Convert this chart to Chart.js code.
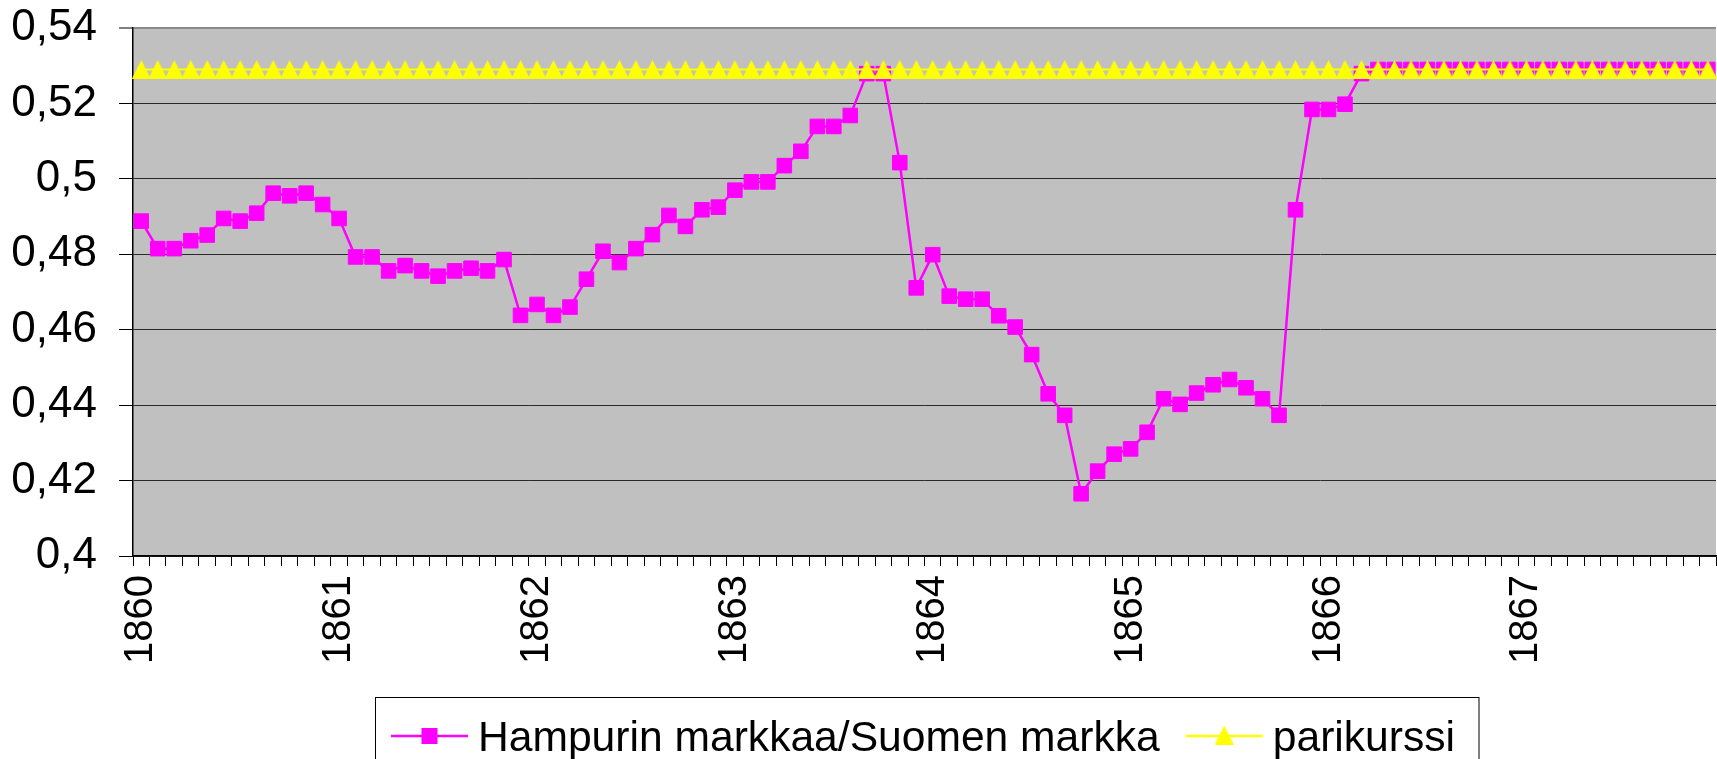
<!DOCTYPE html>
<html>
<head>
<meta charset="utf-8">
<title>Hampurin markkaa / Suomen markka 1860-1867</title>
<script src="https://cdn.jsdelivr.net/npm/chart.js@4/dist/chart.umd.min.js"></script>
<style>
  html, body { margin: 0; padding: 0; background: #ffffff; }
  #wrap { width: 1717px; height: 759px; position: relative; }
</style>
</head>
<body>
<div id="wrap"><canvas id="kurssi"></canvas></div>
<script>
// Data: monthly exchange rate, January 1860 - December 1867
const years = [1860, 1861, 1862, 1863, 1864, 1865, 1866, 1867];
const monthsPerYear = 12;

// Hamburg marks per Finnish mark, one row per year
const hampurinMarkkaa = [
  0.4888, 0.4815, 0.4815, 0.4836, 0.4851, 0.4895, 0.4888, 0.4909, 0.4962, 0.4955, 0.4962, 0.4932,
  0.4895, 0.4793, 0.4793, 0.4756, 0.4770, 0.4756, 0.4742, 0.4756, 0.4763, 0.4756, 0.4786, 0.4638,
  0.4667, 0.4638, 0.4660, 0.4734, 0.4808, 0.4778, 0.4815, 0.4852, 0.4903, 0.4874, 0.4918, 0.4925,
  0.4970, 0.4992, 0.4992, 0.5035, 0.5073, 0.5139, 0.5139, 0.5168, 0.5279, 0.5279, 0.5043, 0.4711,
  0.4799, 0.4689, 0.4681, 0.4681, 0.4637, 0.4607, 0.4534, 0.4430, 0.4373, 0.4165, 0.4225, 0.4270,
  0.4284, 0.4328, 0.4417, 0.4402, 0.4432, 0.4454, 0.4468, 0.4446, 0.4417, 0.4373, 0.4918, 0.5184,
  0.5184, 0.5198, 0.5279, 0.5290, 0.5290, 0.5290, 0.5290, 0.5290, 0.5290, 0.5290, 0.5290, 0.5290,
  0.5290, 0.5290, 0.5290, 0.5290, 0.5290, 0.5290, 0.5290, 0.5290, 0.5290, 0.5290, 0.5290, 0.5290
];

// Par rate
const parikurssi = [
  0.529, 0.529, 0.529, 0.529, 0.529, 0.529, 0.529, 0.529, 0.529, 0.529, 0.529, 0.529,
  0.529, 0.529, 0.529, 0.529, 0.529, 0.529, 0.529, 0.529, 0.529, 0.529, 0.529, 0.529,
  0.529, 0.529, 0.529, 0.529, 0.529, 0.529, 0.529, 0.529, 0.529, 0.529, 0.529, 0.529,
  0.529, 0.529, 0.529, 0.529, 0.529, 0.529, 0.529, 0.529, 0.529, 0.529, 0.529, 0.529,
  0.529, 0.529, 0.529, 0.529, 0.529, 0.529, 0.529, 0.529, 0.529, 0.529, 0.529, 0.529,
  0.529, 0.529, 0.529, 0.529, 0.529, 0.529, 0.529, 0.529, 0.529, 0.529, 0.529, 0.529,
  0.529, 0.529, 0.529, 0.529, 0.529, 0.529, 0.529, 0.529, 0.529, 0.529, 0.529, 0.529,
  0.529, 0.529, 0.529, 0.529, 0.529, 0.529, 0.529, 0.529, 0.529, 0.529, 0.529, 0.529
];

// y axis ticks
const yTicks = [0.4, 0.42, 0.44, 0.46, 0.48, 0.5, 0.52, 0.54];

// Category labels "1860-1" ... "1867-12"; only January gets the year as tick label
let categories = [];
let tickLabels = [];
for (let y of years) {
  for (let m = 1; m <= monthsPerYear; m++) {
    categories.push(y + "-" + m);
    tickLabels.push(m === 1 ? String(y) : "");
  }
}

const FONT = '"Liberation Sans", Arial, sans-serif';
const MAGENTA = "#ff00ff";
const YELLOW = "#ffff00";

// Triangle marker drawn into a small canvas (Excel style, a bit narrower than equilateral)
function makeTriangle(w, h, color) {
  const c = document.createElement("canvas");
  c.width = w;
  c.height = h;
  const g = c.getContext("2d");
  g.fillStyle = color;
  g.beginPath();
  g.moveTo(w / 2, 0);
  g.lineTo(w, h);
  g.lineTo(0, h);
  g.closePath();
  g.fill();
  return c;
}
const triangle = makeTriangle(19, 19, YELLOW);

// Grey plot area
const plotBackground = {
  id: "plotBackground",
  beforeDraw(chart) {
    const { ctx, chartArea } = chart;
    ctx.save();
    ctx.fillStyle = "#c0c0c0";
    ctx.fillRect(chartArea.left, chartArea.top, chartArea.right - chartArea.left, chartArea.bottom - chartArea.top);
    ctx.restore();
  },
};

// Boxed legend with line + marker symbols, below the axis labels
const boxLegend = {
  id: "boxLegend",
  afterDraw(chart) {
    const { ctx, chartArea } = chart;
    const sets = chart.data.datasets;
    const symW = 77, gapText = 10, gapItem = 26, padL = 15.5, padR = 24;
    const boxTop = 697.5, symY = 736, baseY = 751;

    ctx.save();
    ctx.font = "42.6px " + FONT;
    let widths = sets.map((d) => ctx.measureText(d.label).width);
    let total = padL + padR;
    widths.forEach((w, i) => {
      total += symW + gapText + w + (i > 0 ? gapItem : 0);
    });
    const left = Math.round((chartArea.left + chartArea.right) / 2 + 2 - total / 2) + 0.5;

    ctx.strokeStyle = "#000";
    ctx.lineWidth = 1;
    ctx.strokeRect(left, boxTop, total, 120);

    let x = left + padL;
    sets.forEach((d, i) => {
      if (i > 0) x += gapItem;
      // line
      ctx.strokeStyle = d.borderColor;
      ctx.lineWidth = 2.5;
      ctx.beginPath();
      ctx.moveTo(x, symY);
      ctx.lineTo(x + symW, symY);
      ctx.stroke();
      // marker
      const cx = x + symW / 2;
      if (d.pointStyle === "rect") {
        ctx.fillStyle = d.pointBackgroundColor;
        ctx.fillRect(cx - 8, symY - 8, 16, 16);
      } else {
        ctx.drawImage(d.pointStyle, cx - d.pointStyle.width / 2, symY - d.pointStyle.height / 2 - 1);
      }
      x += symW + gapText;
      // text
      ctx.fillStyle = "#000";
      ctx.textBaseline = "alphabetic";
      ctx.textAlign = "left";
      ctx.fillText(d.label, x, baseY);
      x += widths[i];
    });
    ctx.restore();
  },
};

function formatTick(value) {
  // 0.54 -> "0,54", 0.5 -> "0,5"
  return String(Number(value.toFixed(2))).replace(".", ",");
}

new Chart(document.getElementById("kurssi"), {
  type: "line",
  data: {
    labels: categories,
    datasets: [
      {
        label: "Hampurin markkaa/Suomen markka",
        data: hampurinMarkkaa,
        borderColor: MAGENTA,
        backgroundColor: MAGENTA,
        pointBackgroundColor: MAGENTA,
        pointBorderColor: MAGENTA,
        borderWidth: 2.5,
        pointStyle: "rect",
        pointRadius: 10.3,
        pointBorderWidth: 1,
        tension: 0,
        fill: false,
        order: 1,
      },
      {
        label: "parikurssi",
        data: parikurssi,
        borderColor: YELLOW,
        backgroundColor: YELLOW,
        pointBackgroundColor: YELLOW,
        borderWidth: 2,
        pointStyle: triangle,
        pointRadius: 10,
        tension: 0,
        fill: false,
        order: 0,
      },
    ],
  },
  options: {
    responsive: true,
    maintainAspectRatio: false,
    animation: false,
    events: [],
    layout: { autoPadding: false, padding: { top: 28, right: 1, bottom: 0, left: 0 } },
    plugins: {
      legend: { display: false },
      tooltip: { enabled: false },
      title: { display: false },
    },
    scales: {
      x: {
        type: "category",
        offset: true,
        grid: {
          offset: true,
          drawOnChartArea: false,
          drawTicks: true,
          tickLength: 10,
          tickColor: "#000",
          tickWidth: 1,
        },
        border: { display: true, color: "#000", width: 1.5 },
        ticks: {
          autoSkip: false,
          maxRotation: 90,
          minRotation: 90,
          padding: 9,
          color: "#000",
          font: { family: FONT, size: 40 },
          callback: (value, index) => tickLabels[index],
        },
        afterFit(scale) {
          scale.height = 203;
          scale.paddingLeft = 0;
          scale.paddingRight = 0;
        },
      },
      y: {
        type: "linear",
        min: yTicks[0],
        max: yTicks[yTicks.length - 1],
        afterBuildTicks(scale) {
          scale.ticks = yTicks.map((v) => ({ value: v }));
        },
        grid: {
          color: (c) => (c.tick && c.tick.value === 0.54 ? "#8a8a8a" : "#2a2a2a"),
          lineWidth: (c) => (c.tick && c.tick.value === 0.54 ? 2 : 1),
          drawTicks: true,
          tickLength: 14,
          tickColor: "#000",
          tickWidth: 1,
        },
        border: { display: true, color: "#000", width: 1.5 },
        ticks: {
          padding: 22,
          color: "#000",
          font: { family: FONT, size: 44 },
          callback: (value) => formatTick(value),
        },
        afterFit(scale) {
          scale.width = 133;
          scale.paddingTop = 0;
          scale.paddingBottom = 0;
        },
      },
    },
  },
  plugins: [plotBackground, boxLegend],
});
</script>
</body>
</html>
